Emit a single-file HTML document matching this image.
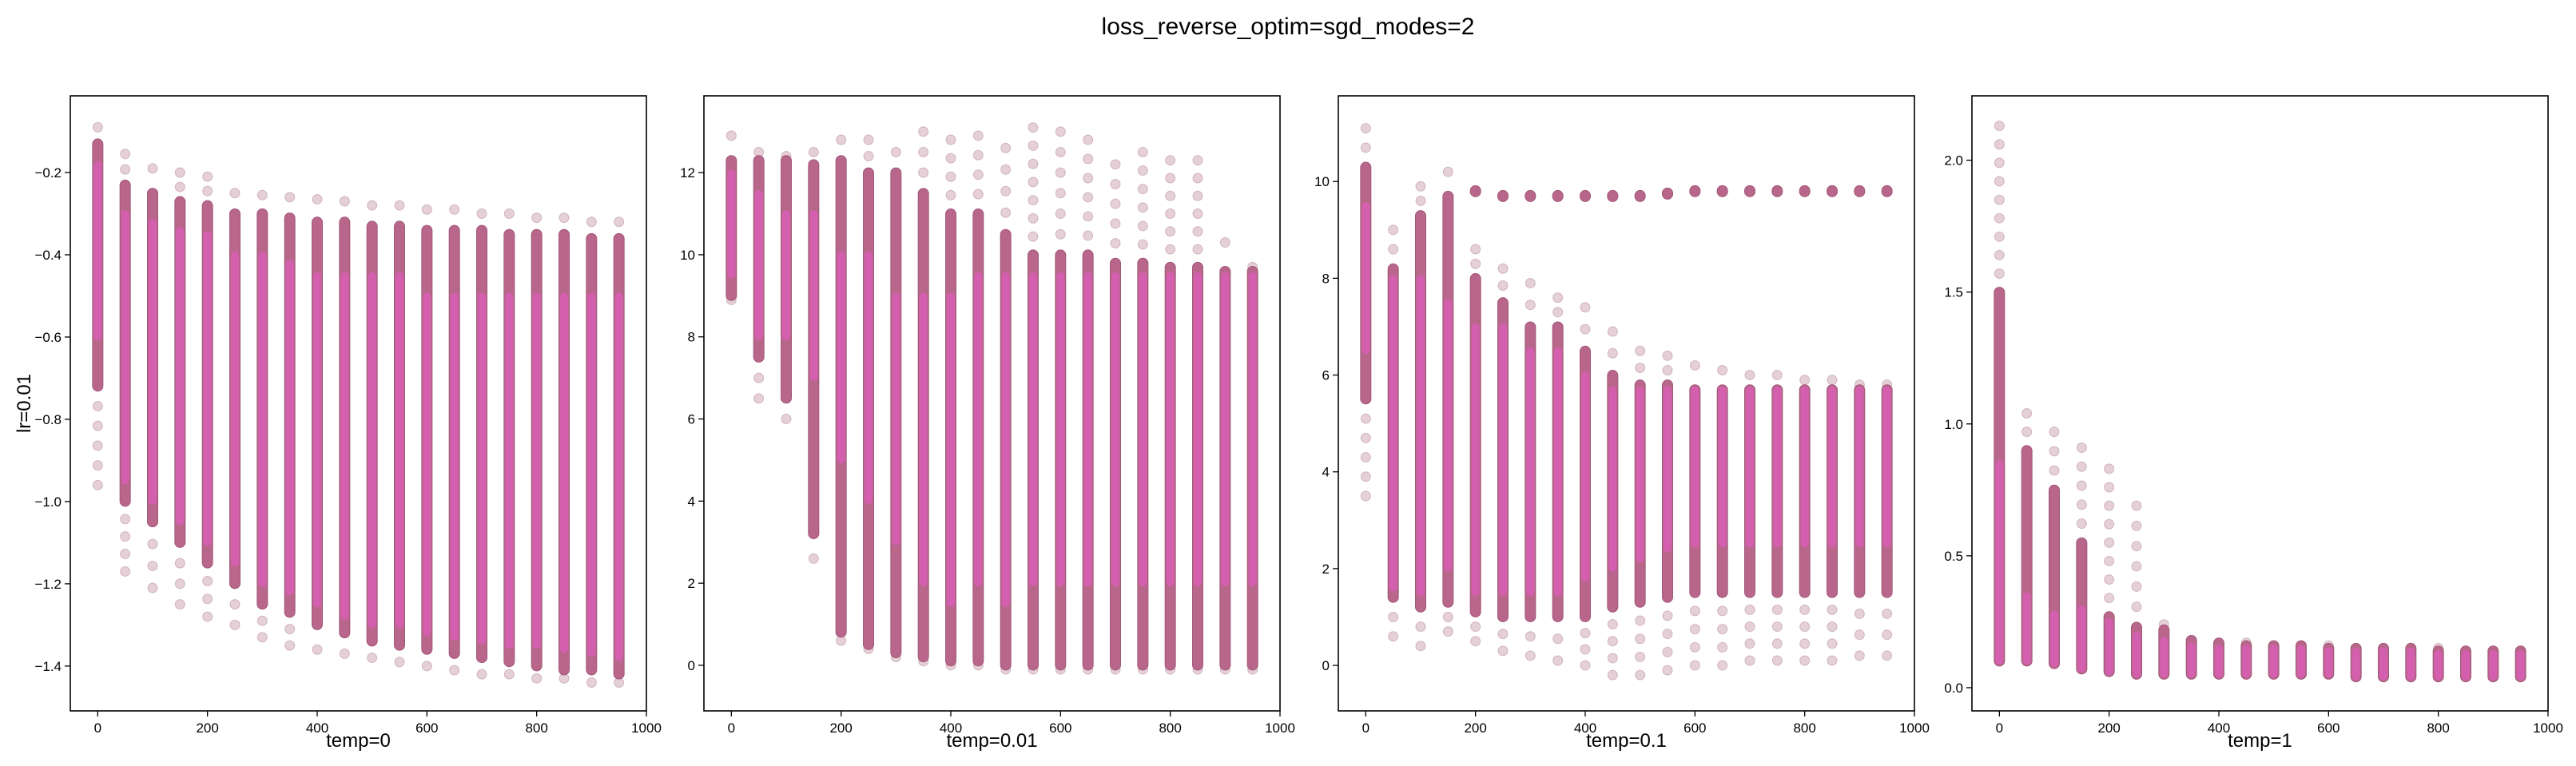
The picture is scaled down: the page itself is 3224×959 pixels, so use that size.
<!DOCTYPE html>
<html><head><meta charset="utf-8">
<style>
html,body{margin:0;padding:0;background:#fff;}
svg{display:block;font-family:"Liberation Sans","DejaVu Sans",sans-serif;}
</style></head>
<body>
<svg id="chart" width="3224" height="959" viewBox="0 0 3224 959" xmlns="http://www.w3.org/2000/svg">
<rect width="3224" height="959" fill="#fff"/>
<text x="1612" y="43" font-size="30" text-anchor="middle" fill="#000">loss_reverse_optim=sgd_modes=2</text>
<text transform="translate(38,505) rotate(-90)" font-size="24" text-anchor="middle" fill="#000">lr=0.01</text>
</svg>
<script>
const xCats = [0,50,100,150,200,250,300,350,400,450,500,550,600,650,700,750,800,850,900,950];
const panelTitles = ["temp=0","temp=0.01","temp=0.1","temp=1"];
const xTicks = [0,200,400,600,800,1000];

// panel 1 (temp=0)
const p1Top   = [-0.09,-0.155,-0.19,-0.2,-0.21,-0.25,-0.255,-0.26,-0.265,-0.27,-0.28,-0.28,-0.29,-0.29,-0.3,-0.3,-0.31,-0.31,-0.32,-0.32];
const p1DHi   = [-0.13,-0.23,-0.25,-0.27,-0.28,-0.3,-0.3,-0.31,-0.32,-0.32,-0.33,-0.33,-0.34,-0.34,-0.34,-0.35,-0.35,-0.35,-0.36,-0.36];
const p1DLo   = [-0.72,-1.0,-1.05,-1.1,-1.15,-1.2,-1.25,-1.27,-1.3,-1.32,-1.34,-1.35,-1.36,-1.37,-1.38,-1.39,-1.4,-1.41,-1.41,-1.42];
const p1Bot   = [-0.96,-1.17,-1.21,-1.25,-1.28,-1.3,-1.33,-1.35,-1.36,-1.37,-1.38,-1.39,-1.4,-1.41,-1.42,-1.42,-1.43,-1.43,-1.44,-1.44];
const p1PHi   = [-0.18,-0.3,-0.32,-0.34,-0.35,-0.4,-0.4,-0.42,-0.45,-0.45,-0.45,-0.45,-0.5,-0.5,-0.5,-0.5,-0.5,-0.5,-0.5,-0.5];
const p1PLo   = [-0.6,-0.95,-1.0,-1.05,-1.1,-1.15,-1.2,-1.22,-1.25,-1.28,-1.3,-1.3,-1.32,-1.33,-1.34,-1.35,-1.35,-1.36,-1.37,-1.38];
const p1Clu   = [null,null,null,null,null,null,null,null,null,null,null,null,null,null,null,null,null,null,null,null];
// panel 2 (temp=0.01)
const p2Top   = [12.9,12.5,12.4,12.5,12.8,12.8,12.5,13.0,12.8,12.9,12.6,13.1,13.0,12.8,12.2,12.5,12.3,12.3,10.3,9.7];
const p2DHi   = [12.3,12.3,12.3,12.2,12.3,12.0,12.0,11.5,11.0,11.0,10.5,10.0,10.0,10.0,9.8,9.8,9.7,9.7,9.6,9.6];
const p2DLo   = [9.0,7.5,6.5,3.2,0.8,0.5,0.3,0.2,0.1,0.1,0.0,0.0,0.0,0.0,0.0,0.0,0.0,0.0,0.0,0.0];
const p2Bot   = [8.9,6.5,6.0,2.6,0.6,0.4,0.2,0.1,0.0,0.0,-0.1,-0.1,-0.1,-0.1,-0.1,-0.1,-0.1,-0.1,-0.1,-0.1];
const p2PHi   = [12.0,11.5,11.0,11.0,10.0,10.0,9.0,9.0,9.0,9.5,9.5,9.5,9.5,9.5,9.5,9.5,9.5,9.5,9.5,9.5];
const p2PLo   = [9.5,8.0,8.0,7.0,5.0,4.0,3.0,2.0,1.5,2.0,1.5,2.0,2.0,2.0,2.0,2.0,2.0,2.0,2.0,2.0];
const p2Clu   = [null,null,null,null,null,null,null,null,null,null,null,null,null,null,null,null,null,null,null,null];
// panel 3 (temp=0.1)
const p3Top   = [11.1,9.0,9.9,10.2,8.6,8.2,7.9,7.6,7.4,6.9,6.5,6.4,6.2,6.1,6.0,6.0,5.9,5.9,5.8,5.8];
const p3DHi   = [10.3,8.2,9.3,9.7,8.0,7.5,7.0,7.0,6.5,6.0,5.8,5.8,5.7,5.7,5.7,5.7,5.7,5.7,5.7,5.7];
const p3DLo   = [5.5,1.4,1.2,1.3,1.1,1.0,1.0,1.0,1.0,1.2,1.3,1.4,1.5,1.5,1.5,1.5,1.5,1.5,1.5,1.5];
const p3Bot   = [3.5,0.6,0.4,0.7,0.5,0.3,0.2,0.1,0.0,-0.2,-0.2,-0.1,0.0,0.0,0.1,0.1,0.1,0.1,0.2,0.2];
const p3PHi   = [9.5,8.0,8.0,7.5,7.0,7.0,6.5,6.5,6.0,5.7,5.7,5.7,5.7,5.7,5.7,5.7,5.7,5.7,5.7,5.7];
const p3PLo   = [6.5,1.6,1.5,2.0,1.5,1.5,1.5,1.5,1.8,2.0,2.2,2.4,2.5,2.5,2.5,2.5,2.5,2.5,2.5,2.5];
const p3Clu   = [null,null,null,null,9.8,9.7,9.7,9.7,9.7,9.7,9.7,9.75,9.8,9.8,9.8,9.8,9.8,9.8,9.8,9.8];
// panel 4 (temp=1)
const p4Top   = [2.13,1.04,0.97,0.91,0.83,0.69,0.24,0.18,0.17,0.17,0.16,0.16,0.16,0.15,0.15,0.15,0.15,0.14,0.14,0.14];
const p4DHi   = [1.5,0.9,0.75,0.55,0.27,0.23,0.22,0.18,0.17,0.16,0.16,0.16,0.15,0.15,0.15,0.15,0.14,0.14,0.14,0.14];
const p4DLo   = [0.1,0.1,0.09,0.07,0.06,0.05,0.05,0.05,0.05,0.05,0.05,0.05,0.05,0.04,0.04,0.04,0.04,0.04,0.04,0.04];
const p4Bot   = [0.1,0.1,0.09,0.07,0.06,0.05,0.05,0.05,0.05,0.05,0.05,0.05,0.05,0.04,0.04,0.04,0.04,0.04,0.04,0.04];
const p4PHi   = [0.85,0.35,0.28,0.3,0.25,0.2,0.18,0.16,0.15,0.15,0.15,0.15,0.14,0.14,0.14,0.14,0.13,0.13,0.13,0.13];
const p4PLo   = [0.1,0.1,0.09,0.07,0.06,0.05,0.05,0.05,0.05,0.05,0.05,0.05,0.05,0.04,0.04,0.04,0.04,0.04,0.04,0.04];
const p4Clu   = [null,null,null,null,null,null,null,null,null,null,null,null,null,null,null,null,null,null,null,null];

const y1Ticks = [-1.4,-1.2,-1.0,-0.8,-0.6,-0.4,-0.2];
const y2Ticks = [0,2,4,6,8,10,12];
const y3Ticks = [0,2,4,6,8,10];
const y4Ticks = [0.0,0.5,1.0,1.5,2.0];
const y1Labels = ["\u22121.4","\u22121.2","\u22121.0","\u22120.8","\u22120.6","\u22120.4","\u22120.2"];
const y2Labels = ["0","2","4","6","8","10","12"];
const y3Labels = ["0","2","4","6","8","10"];
const y4Labels = ["0.0","0.5","1.0","1.5","2.0"];

const panels = [
  {top:p1Top,dhi:p1DHi,dlo:p1DLo,bot:p1Bot,phi:p1PHi,plo:p1PLo,clu:p1Clu,yt:y1Ticks,yl:y1Labels,ymin:-1.509,ymax:-0.0136},
  {top:p2Top,dhi:p2DHi,dlo:p2DLo,bot:p2Bot,phi:p2PHi,plo:p2PLo,clu:p2Clu,yt:y2Ticks,yl:y2Labels,ymin:-1.11,ymax:13.87},
  {top:p3Top,dhi:p3DHi,dlo:p3DLo,bot:p3Bot,phi:p3PHi,plo:p3PLo,clu:p3Clu,yt:y3Ticks,yl:y3Labels,ymin:-0.94,ymax:11.77},
  {top:p4Top,dhi:p4DHi,dlo:p4DLo,bot:p4Bot,phi:p4PHi,plo:p4PLo,clu:p4Clu,yt:y4Ticks,yl:y4Labels,ymin:-0.088,ymax:2.244}
];

const NS = "http://www.w3.org/2000/svg";
const svg = document.getElementById('chart');
function mk(tag, attrs, parent){ const e=document.createElementNS(NS,tag); for(const k in attrs) e.setAttribute(k,attrs[k]); (parent||svg).appendChild(e); return e; }

const AX_TOP=120, AX_BOT=890, AX_W=721, XMIN=-50, XMAX=1000;
const lefts=[88,881,1675,2468];

panels.forEach((p,pi)=>{
  const L=lefts[pi];
  const xs=v=>L+(v-XMIN)/(XMAX-XMIN)*AX_W;
  const ys=v=>AX_BOT-(v-p.ymin)/(p.ymax-p.ymin)*(AX_BOT-AX_TOP);
  const g=mk('g',{});
  
  
  xCats.forEach((xv,i)=>{
    const cx=xs(xv);
    const cg=mk('g',{},g);
    
    
    const outs=[];
    const yTop=ys(p.top[i]), yDHi=ys(p.dhi[i]), yDLo=ys(p.dlo[i]), yBot=ys(p.bot[i]);
    if(yDHi-yTop>3){
      const n=Math.max(1,Math.round((yDHi-yTop)/24));
      for(let k=0;k<n;k++) outs.push(yTop+(yDHi-yTop)*k/n);
    } else outs.push(yTop);
    if(yBot-yDLo>3){
      const n=Math.max(1,Math.round((yBot-yDLo)/24));
      for(let k=1;k<=n;k++) outs.push(yDLo+(yBot-yDLo)*k/n);
    }
    outs.forEach(yy=>{
      const c=mk('circle',{cx:cx,cy:yy,r:6,fill:'rgba(178,110,130,0.32)',stroke:'rgba(150,90,110,0.35)','stroke-width':1},cg);
      
      
    });
    if(p.clu[i]!==null){
      const yc=ys(p.clu[i]);
      const cl=mk('rect',{x:cx-6.5,y:yc-7,width:13,height:14,rx:6.5,fill:'#b8678b',stroke:'#a2587a','stroke-width':1},cg);
      
      
    }
    const d=mk('rect',{x:cx-6.5,y:yDHi-6,width:13,height:Math.max(12,yDLo-yDHi+12),rx:6.5,fill:'#b8678b',stroke:'#a2587a','stroke-width':1},cg);
    
    
    const yp1=ys(p.phi[i]), yp2=ys(p.plo[i]);
    const pk=mk('rect',{x:cx-5,y:yp1-4,width:10,height:Math.max(8,yp2-yp1+8),rx:5,fill:'#d45fae'},cg);
    
    
  });
  const fr=mk('rect',{x:L,y:AX_TOP,width:AX_W,height:AX_BOT-AX_TOP,fill:'none',stroke:'#000','stroke-width':1.6},g);
  
  
  xTicks.forEach(t=>{
    const x=xs(t);
    const tl=mk('line',{x1:x,x2:x,y1:AX_BOT,y2:AX_BOT+7,stroke:'#000','stroke-width':1.3},g);
    
    
    const tx=mk('text',{x:x,y:AX_BOT+27,'font-size':17,'text-anchor':'middle',fill:'#000'},g);
    tx.textContent=String(t);
    
    
  });
  p.yt.forEach((t,j)=>{
    const y=ys(t);
    const tl=mk('line',{x1:L-7,x2:L,y1:y,y2:y,stroke:'#000','stroke-width':1.3},g);
    
    
    const tx=mk('text',{x:L-11,y:y+6,'font-size':17,'text-anchor':'end',fill:'#000'},g);
    tx.textContent=p.yl[j];
    
    
  });
  const xt=mk('text',{x:L+AX_W/2,y:935,'font-size':24,'text-anchor':'middle',fill:'#000'},g);
  xt.textContent=panelTitles[pi];
  
  
});
</script>
</body></html>
